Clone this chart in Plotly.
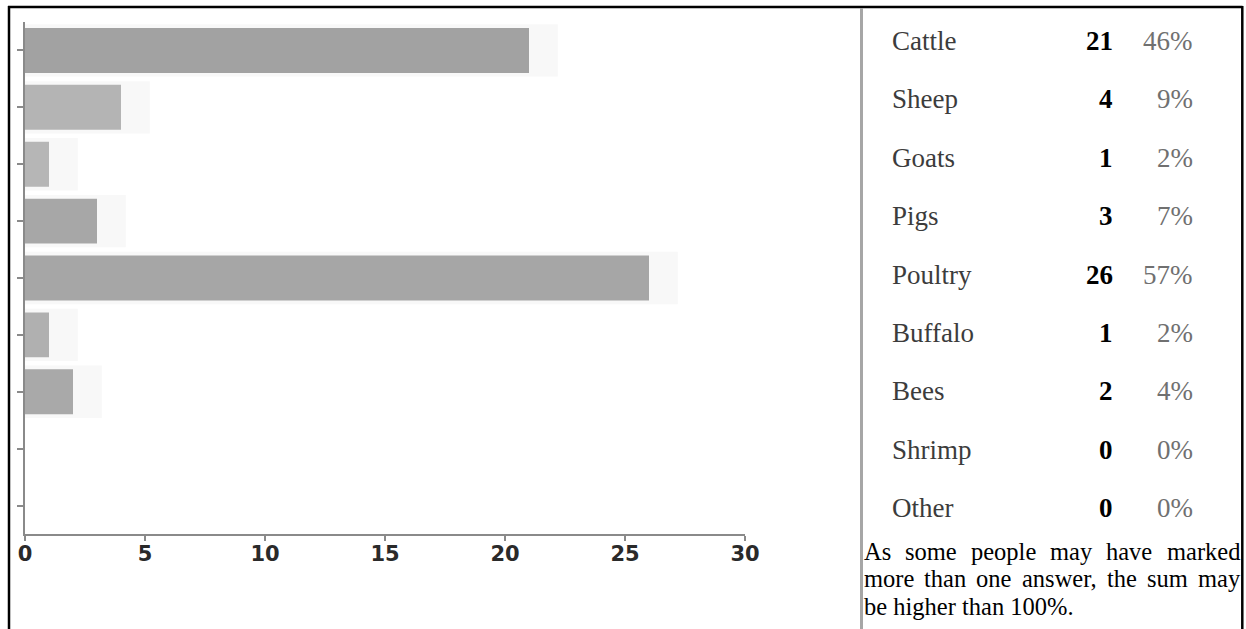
import plotly.graph_objects as go

# Survey answers: which livestock is kept
animals = ["Cattle", "Sheep", "Goats", "Pigs", "Poultry", "Buffalo", "Bees", "Shrimp", "Other"]
counts = [21, 4, 1, 3, 26, 1, 2, 0, 0]
percents = ["46%", "9%", "2%", "7%", "57%", "2%", "4%", "0%", "0%"]
bar_colors = ["#a2a2a2", "#b4b4b4", "#b6b6b6", "#a7a7a7", "#a6a6a6",
              "#b0b0b0", "#a9a9a9", "#a9a9a9", "#a9a9a9"]
x_ticks = [0, 5, 10, 15, 20, 25, 30]
footnote_lines = [
    "As some people may have marked",
    "more than one answer, the sum may",
    "be higher than 100%.",
]

W, H = 1246, 629


def px(x):
    return x / W


def py(y):
    return 1 - y / H


fig = go.Figure()
# faint glow that trails each bar
fig.add_trace(go.Bar(
    x=[c + 1.2 if c > 0 else 0 for c in counts],
    y=animals,
    orientation="h",
    width=0.92,
    marker=dict(color="#f8f8f8", line=dict(width=0)),
    hoverinfo="skip",
))
fig.add_trace(go.Bar(
    x=counts,
    y=animals,
    orientation="h",
    width=0.79,
    marker=dict(color=bar_colors, line=dict(width=0)),
    hoverinfo="x+y",
))

fig.update_layout(
    width=W,
    height=H,
    autosize=False,
    margin=dict(l=0, r=0, t=0, b=0),
    paper_bgcolor="white",
    plot_bgcolor="white",
    showlegend=False,
    barmode="overlay",
    xaxis=dict(
        domain=[px(25), px(745)],
        range=[0, 30],
        tickvals=x_ticks,
        ticks="outside",
        ticklen=5,
        tickwidth=1.5,
        tickcolor="#8a8a8a",
        showline=True,
        linecolor="#8a8a8a",
        linewidth=2,
        showgrid=False,
        zeroline=False,
        automargin=False,
        ticklabelstandoff=-5,
        tickfont=dict(family="DejaVu Sans", size=21, color="#2a2a2a", weight="bold"),
    ),
    yaxis=dict(
        domain=[py(534), py(22)],
        categoryorder="array",
        categoryarray=animals,
        range=[len(animals) - 0.5, -0.5],
        ticks="outside",
        ticklen=6,
        tickwidth=1.5,
        tickcolor="#8a8a8a",
        showline=True,
        linecolor="#8a8a8a",
        linewidth=2,
        showgrid=False,
        zeroline=False,
        showticklabels=False,
        automargin=False,
    ),
)

# Page frame and the divider between chart and table
frame = dict(color="black", width=2.5)
shapes = [
    dict(type="line", xref="paper", yref="paper", x0=px(8), x1=px(1242.5), y0=py(7), y1=py(7), line=frame),
    dict(type="line", xref="paper", yref="paper", x0=px(9), x1=px(9), y0=py(6), y1=py(H + 2), line=frame),
    dict(type="line", xref="paper", yref="paper", x0=px(1242.3), x1=px(1242.3), y0=py(6), y1=py(H + 2), line=frame),
    dict(type="line", xref="paper", yref="paper", x0=px(861.5), x1=px(861.5), y0=py(8), y1=py(H + 2),
         line=dict(color="#a6a6a6", width=3)),
]
fig.update_layout(shapes=shapes)

# Count table on the right
serif = "Liberation Serif, Times New Roman, serif"
row_top = 41
row_step = 58.4
for i, (name, n, pct) in enumerate(zip(animals, counts, percents)):
    yc = py(row_top + i * row_step)
    fig.add_annotation(x=px(890), y=yc, xref="paper", yref="paper", text=name,
                       showarrow=False, xanchor="left", yanchor="middle",
                       font=dict(family=serif, size=27, color="#3c3c3c"))
    fig.add_annotation(x=px(1115), y=yc, xref="paper", yref="paper", text=f"<b>{n}</b>",
                       showarrow=False, xanchor="right", yanchor="middle",
                       font=dict(family=serif, size=27, color="#000000"))
    fig.add_annotation(x=px(1195), y=yc, xref="paper", yref="paper", text=pct,
                       showarrow=False, xanchor="right", yanchor="middle",
                       font=dict(family=serif, size=27, color="#707070"))

# Footnote, justified across the column using Times advance widths (per 1000 em)
TIMES = {
    "a": 444, "b": 500, "c": 444, "d": 500, "e": 444, "f": 333, "g": 500, "h": 500,
    "i": 278, "j": 278, "k": 500, "l": 278, "m": 778, "n": 500, "o": 500, "p": 500,
    "q": 500, "r": 333, "s": 389, "t": 278, "u": 500, "v": 500, "w": 722, "x": 500,
    "y": 500, "z": 444, "A": 722, ",": 250, ".": 250, " ": 250, "%": 833,
}


def text_width(s, size):
    return sum(TIMES.get(ch, 500) for ch in s) * size / 1000


note_size = 24.5
note_font = dict(family=serif, size=note_size, color="#000000")
text_left, text_right = 862, 1238
note_centers = [551, 578.5, 606]
for k, (line, yc_px) in enumerate(zip(footnote_lines, note_centers)):
    yc = py(yc_px)
    last = k == len(footnote_lines) - 1
    if last:
        fig.add_annotation(x=px(text_left), y=yc, xref="paper", yref="paper", text=line,
                           showarrow=False, xanchor="left", yanchor="middle", font=note_font)
        continue
    words = line.split(" ")
    widths = [text_width(w, note_size) for w in words]
    gap = (text_right - text_left - sum(widths)) / (len(words) - 1)
    x = text_left
    for w, wd in zip(words, widths):
        fig.add_annotation(x=px(x), y=yc, xref="paper", yref="paper", text=w,
                           showarrow=False, xanchor="left", yanchor="middle", font=note_font)
        x += wd + gap

fig.write_html("out.html")
